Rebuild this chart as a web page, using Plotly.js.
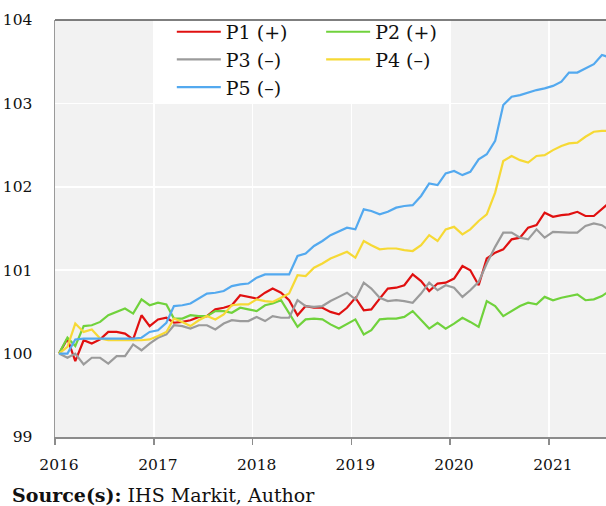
<!DOCTYPE html>
<html>
<head>
<meta charset="utf-8">
<script src="https://cdn.plot.ly/plotly-3.0.1.min.js"></script>
<style>
  html, body { margin: 0; padding: 0; background: #ffffff; }
  #chart { width: 606px; height: 506px; }
</style>
</head>
<body>
<div id="chart"></div>
<script>
// Monthly series, January 2016 onward
const startYear = 2016;
const seriesNames = ["P1 (+)", "P2 (+)", "P3 (\u2013)", "P4 (\u2013)", "P5 (\u2013)"];

const p1 = [100.00, 100.18, 99.91, 100.16, 100.12, 100.17, 100.26, 100.26, 100.24, 100.17, 100.46, 100.33,
            100.41, 100.43, 100.37, 100.38, 100.40, 100.44, 100.45, 100.53, 100.55, 100.58, 100.70, 100.68,
            100.66, 100.73, 100.78, 100.73, 100.64, 100.46, 100.57, 100.55, 100.55, 100.50, 100.47, 100.55,
            100.67, 100.52, 100.53, 100.66, 100.78, 100.79, 100.82, 100.95, 100.87, 100.75, 100.84, 100.85,
            100.90, 101.05, 101.00, 100.82, 101.14, 101.21, 101.25, 101.37, 101.39, 101.51, 101.54, 101.69,
            101.64, 101.66, 101.67, 101.70, 101.65, 101.65, 101.74, 101.82];

const p2 = [100.00, 100.19, 100.09, 100.33, 100.34, 100.38, 100.46, 100.50, 100.54, 100.48, 100.65, 100.58,
            100.61, 100.59, 100.42, 100.42, 100.46, 100.45, 100.45, 100.51, 100.51, 100.49, 100.55, 100.53,
            100.51, 100.58, 100.60, 100.64, 100.48, 100.32, 100.41, 100.42, 100.41, 100.35, 100.30, 100.35,
            100.41, 100.23, 100.28, 100.41, 100.42, 100.42, 100.44, 100.51, 100.40, 100.30, 100.37, 100.30,
            100.36, 100.43, 100.38, 100.32, 100.63, 100.57, 100.45, 100.51, 100.57, 100.61, 100.59, 100.68,
            100.64, 100.67, 100.69, 100.71, 100.64, 100.65, 100.69, 100.76];

const p3 = [100.00, 99.95, 100.00, 99.87, 99.95, 99.95, 99.88, 99.97, 99.97, 100.11, 100.04, 100.12,
            100.19, 100.23, 100.34, 100.33, 100.30, 100.34, 100.34, 100.29, 100.36, 100.40, 100.39, 100.39,
            100.44, 100.39, 100.45, 100.43, 100.43, 100.64, 100.57, 100.56, 100.57, 100.63, 100.68, 100.73,
            100.65, 100.85, 100.78, 100.67, 100.63, 100.64, 100.63, 100.61, 100.72, 100.85, 100.76, 100.82,
            100.79, 100.68, 100.76, 100.86, 101.08, 101.28, 101.45, 101.45, 101.39, 101.37, 101.49, 101.39,
            101.46, 101.45, 101.45, 101.45, 101.53, 101.56, 101.54, 101.47];

const p4 = [100.00, 100.08, 100.36, 100.26, 100.29, 100.18, 100.16, 100.16, 100.16, 100.16, 100.16, 100.17,
            100.21, 100.26, 100.42, 100.38, 100.33, 100.40, 100.45, 100.41, 100.47, 100.58, 100.59, 100.59,
            100.65, 100.63, 100.62, 100.67, 100.72, 100.94, 100.93, 101.03, 101.08, 101.14, 101.18, 101.22,
            101.15, 101.35, 101.30, 101.25, 101.26, 101.26, 101.24, 101.23, 101.30, 101.42, 101.35, 101.49,
            101.52, 101.43, 101.49, 101.59, 101.67, 101.93, 102.31, 102.37, 102.32, 102.29, 102.37, 102.38,
            102.44, 102.49, 102.52, 102.53, 102.60, 102.66, 102.67, 102.67];

const p5 = [100.00, 100.00, 100.17, 100.18, 100.18, 100.18, 100.18, 100.18, 100.18, 100.18, 100.19, 100.26,
            100.28, 100.37, 100.57, 100.58, 100.60, 100.66, 100.72, 100.73, 100.75, 100.81, 100.83, 100.84,
            100.91, 100.95, 100.95, 100.95, 100.95, 101.17, 101.20, 101.29, 101.35, 101.42, 101.47, 101.51,
            101.49, 101.73, 101.71, 101.67, 101.70, 101.75, 101.77, 101.78, 101.89, 102.04, 102.02, 102.16,
            102.19, 102.14, 102.18, 102.33, 102.39, 102.55, 102.98, 103.08, 103.10, 103.13, 103.16, 103.18,
            103.21, 103.26, 103.37, 103.37, 103.42, 103.47, 103.58, 103.55];

const yTicks = [99, 100, 101, 102, 103, 104];

// month dates (mid-month) for each observation
const months = [];
for (let i = 0; i < p1.length; i++) {
  const y = startYear + Math.floor(i / 12);
  const m = (i % 12) + 1;
  months.push(y + "-" + String(m).padStart(2, "0") + "-16");
}

const colors = ["#e01010", "#70d23c", "#9b9b9b", "#f6d935", "#53a9ef"];
const legendOf = ["legend", "legend2", "legend", "legend2", "legend"];
const allSeries = [p1, p2, p3, p4, p5];

const traces = allSeries.map((vals, k) => ({
  type: "scatter",
  mode: "lines",
  x: months,
  y: vals,
  name: seriesNames[k],
  legend: legendOf[k],
  line: { color: colors[k], width: 2.2 },
  hoverinfo: "skip"
}));

const serif = "DejaVu Serif, Liberation Serif, serif";

const legendCommon = {
  orientation: "v",
  bgcolor: "rgba(0,0,0,0)",
  borderwidth: 0,
  font: { family: serif, size: 19, color: "#111111" },
  itemwidth: 44,
  tracegroupgap: 0,
  xref: "paper", yref: "paper",
  xanchor: "left", yanchor: "top",
  y: 1.017
};

const layout = {
  width: 606,
  height: 506,
  margin: { l: 55, r: 0, t: 20, b: 69 },
  paper_bgcolor: "#ffffff",
  plot_bgcolor: "#f2f2f2",
  showlegend: true,
  font: { family: serif, size: 16, color: "#111111" },
  legend: Object.assign({}, legendCommon, { x: 0.212 }),
  legend2: Object.assign({}, legendCommon, { x: 0.483 }),
  xaxis: {
    type: "date",
    range: ["2016-01-01", "2021-07-31"],
    dtick: "M12",
    tick0: "2016-01-01",
    tickformat: "%Y",
    showgrid: true,
    gridcolor: "#ffffff",
    gridwidth: 1.5,
    zeroline: false,
    showline: true,
    linecolor: "#8c8c8c",
    linewidth: 1.5,
    ticks: "outside",
    ticklen: 6,
    tickwidth: 1.5,
    tickcolor: "#8c8c8c",
    ticklabelstandoff: 7,
    ticklabelshift: 4,
    tickfont: { family: serif, size: 15.5, color: "#111111" },
    fixedrange: true
  },
  yaxis: {
    range: [99, 104],
    tickvals: yTicks,
    ticktext: yTicks.map(String),
    showgrid: true,
    gridcolor: "#ffffff",
    gridwidth: 1.5,
    zeroline: false,
    showline: true,
    linecolor: "#9a9a9a",
    linewidth: 1.5,
    ticks: "",
    ticklabelstandoff: 18,
    tickfont: { family: serif, size: 15.5, color: "#111111" },
    fixedrange: true
  },
  shapes: [
    {
      type: "rect", layer: "below",
      xref: "x", yref: "y",
      x0: "2017-01-01", x1: "2020-01-01", y0: 103, y1: 104,
      fillcolor: "#ffffff", line: { width: 0 }
    },
    {
      type: "line", layer: "above",
      xref: "paper", yref: "paper",
      x0: 0, x1: 1, y0: 1, y1: 1,
      line: { color: "#555555", width: 1.5 }
    }
  ],
  annotations: [
    {
      xref: "paper", yref: "paper",
      x: -0.0817, y: -0.139,
      xanchor: "left", yanchor: "middle",
      showarrow: false,
      align: "left",
      text: "<b>Source(s):</b> IHS Markit, Author",
      font: { family: serif, size: 19, color: "#111111" }
    }
  ]
};

Plotly.newPlot("chart", traces, layout, { displayModeBar: false, staticPlot: true });
</script>
</body>
</html>
